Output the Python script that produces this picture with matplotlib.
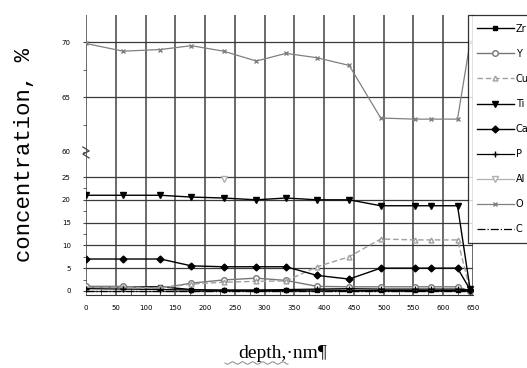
import numpy as np
import matplotlib
matplotlib.use('Agg')
import matplotlib.pyplot as plt

# depth profile, nm
depth = [0, 62, 125, 177, 231, 286, 336, 388, 442, 495, 552, 580, 624, 645]

zr = [0.9, 0.9, 0.9, 0.3, 0.1, 0.1, 0.1, 0.2, 0.1, 0.1, 0.1, 0.1, 0.1, 0.0]
y_ = [1.0, 1.0, 0.6, 1.7, 2.4, 2.8, 2.3, 1.0, 0.9, 0.9, 0.9, 0.9, 0.9, 0.0]
cu = [0.7, 0.8, 0.6, 1.5, 1.9, 2.1, 2.2, 5.3, 7.5, 11.4, 11.2, 11.2, 11.2, 0.3]
ti = [21.0, 21.0, 21.0, 20.6, 20.4, 20.0, 20.4, 20.0, 20.0, 18.7, 18.7, 18.7, 18.7, 0.5]
ca = [7.0, 7.0, 7.0, 5.5, 5.3, 5.3, 5.3, 3.4, 2.6, 5.0, 5.0, 5.0, 5.0, 0.3]
p = [0.5, 0.4, 0.3, 0.2, 0.2, 0.2, 0.3, 0.4, 0.5, 0.4, 0.4, 0.4, 0.4, 0.2]
al = [np.nan, np.nan, np.nan, np.nan, 24.5, np.nan, np.nan, np.nan, np.nan,
      np.nan, np.nan, np.nan, np.nan, np.nan]
o = [69.9, 69.2, 69.35, 69.7, 69.2, 68.3, 69.0, 68.6, 67.9, 63.1, 63.0, 63.0, 63.0, 70.0]
c = [0.0] * 14

xticks = list(range(0, 651, 50))

fig = plt.figure(figsize=(5.27, 3.68), dpi=100)
left, width = 86 / 527, 387 / 527
ax_top = fig.add_axes([left, 1 - 152 / 368, width, 137 / 368])
ax_bot = fig.add_axes([left, 1 - 295 / 368, width, 143 / 368])

styles = [
    ('Zr', zr, dict(color='black', marker='s', ms=3.5, lw=1.0)),
    ('Y', y_, dict(color='#777777', marker='o', ms=4, mfc='white', lw=1.0)),
    ('Cu', cu, dict(color='#a0a0a0', marker='^', ms=3.5, mfc='white', lw=1.0, ls=(0, (4, 2)))),
    ('Ti', ti, dict(color='black', marker='v', ms=4.5, lw=1.0)),
    ('Ca', ca, dict(color='black', marker='D', ms=3.5, lw=1.0)),
    ('P', p, dict(color='black', marker='+', ms=4, lw=0.9)),
    ('Al', al, dict(color='#b0b0b0', marker='v', ms=4, mfc='white', lw=0.9)),
    ('O', o, dict(color='#808080', marker='x', ms=3.5, lw=0.9)),
    ('C', c, dict(color='black', lw=0.9, ls='-.')),
]

for ax in (ax_top, ax_bot):
    for name, vals, kw in styles:
        ax.plot(depth, vals, label=name, **kw)
    ax.set_xlim(0, 650)
    ax.set_xticks(xticks)
    ax.set_xticks(range(25, 650, 50), minor=True)
    ax.grid(axis='x', color='#6a6a6a', lw=1.4)
    ax.grid(axis='y', color='#3a3a3a', lw=0.9)
    ax.set_axisbelow(True)
    for s in ('top', 'right', 'left'):
        ax.spines[s].set_visible(False)
    ax.tick_params(axis='y', labelsize=5, length=2, pad=9, color='#444444')
    ax.tick_params(axis='y', which='minor', length=2, color='#444444')

ax_top.set_ylim(60, 72.5)
ax_top.set_yticks([60, 65, 70])
ax_top.set_yticks([62.5, 67.5], minor=True)
ax_top.spines['bottom'].set_visible(False)
ax_top.tick_params(axis='x', which='both', bottom=False, labelbottom=False)
ax_top.get_ygridlines()[0].set_visible(False)

ax_bot.set_ylim(-0.9, 30.5)
ax_bot.set_yticks([0, 5, 10, 15, 20, 25])
ax_bot.set_yticks([2.5, 7.5, 12.5, 17.5, 22.5], minor=True)
ax_bot.spines['bottom'].set_color('#333333')
ax_bot.tick_params(axis='x', labelsize=5, length=0, pad=7)
ax_bot.tick_params(axis='x', which='minor', direction='in', length=4, color='#444444')

# axis break mark
bx = np.array([left - 0.006, left + 0.006, left - 0.006, left + 0.006])
by = 1 - np.array([147, 151, 154, 158]) / 368
fig.lines.append(plt.Line2D(bx, by, color='#444444', lw=0.9, transform=fig.transFigure))

handles, labels = ax_bot.get_legend_handles_labels()
leg = fig.legend(handles, labels, loc='upper left', bbox_to_anchor=(468 / 527, 1 - 15 / 368),
                 fontsize=7, handlelength=3.8, labelspacing=1.55, borderpad=0.9,
                 handletextpad=0.2, frameon=True, fancybox=False, borderaxespad=0)
leg.get_frame().set_edgecolor('black')
leg.get_frame().set_linewidth(0.9)

fig.text(25 / 527, 1 - 155 / 368, 'concentration, %', rotation=90, ha='center', va='center',
         fontsize=16, family='Liberation Mono')
fig.text(283 / 527, 1 - 353 / 368, 'depth,\u00b7nm\u00b6', ha='center', va='center',
         fontsize=14, family='Liberation Serif')

# spell-check squiggle under "depth,"
sx = np.linspace(225, 288, 60)
sy = 363 + 1.2 * np.sin((sx - 225) / 1.6)
fig.lines.append(plt.Line2D(sx / 527, 1 - sy / 368, color='#888888', lw=0.7,
                            transform=fig.transFigure))

fig.savefig('out.png', dpi=100)
